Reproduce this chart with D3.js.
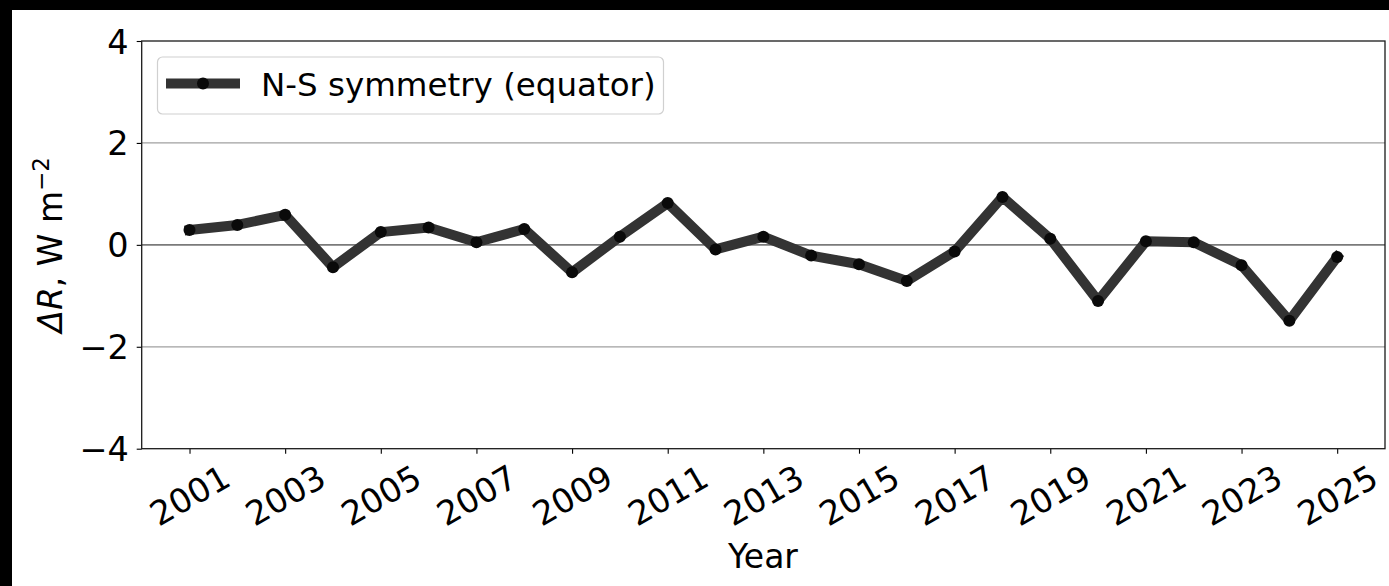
<!DOCTYPE html>
<html>
<head>
<meta charset="utf-8">
<script src="https://cdn.jsdelivr.net/npm/d3@7"></script>
<style>
  html, body { margin: 0; padding: 0; background: #000; }
  svg { display: block; }
  text { font-family: "DejaVu Sans", sans-serif; fill: #000; }
</style>
</head>
<body>
<svg id="chart" width="1389" height="586"></svg>
<script>
// ---- data ----
const years = [2001, 2002, 2003, 2004, 2005, 2006, 2007, 2008, 2009, 2010, 2011, 2012, 2013,
               2014, 2015, 2016, 2017, 2018, 2019, 2020, 2021, 2022, 2023, 2024, 2025];
const deltaR = [0.29, 0.39, 0.59, -0.44, 0.25, 0.34, 0.05, 0.31, -0.54, 0.16, 0.82, -0.09, 0.16,
                -0.21, -0.38, -0.71, -0.13, 0.94, 0.12, -1.10, 0.07, 0.05, -0.40, -1.49, -0.24];
const xTickValues = [2001, 2003, 2005, 2007, 2009, 2011, 2013, 2015, 2017, 2019, 2021, 2023, 2025];
const yTickValues = [-4, -2, 0, 2, 4];
const seriesName = "N-S symmetry (equator)";

// ---- layout ----
const W = 1389, H = 586;
const svg = d3.select("#chart");
svg.append("rect").attr("x", 12).attr("y", 10).attr("width", W - 12).attr("height", H - 10).attr("fill", "#fff");

const pLeft = 141.7, pRight = 1385, pTop = 41, pBottom = 448.7;
const x = d3.scaleLinear().domain([2000, 2026]).range([pLeft, pRight]);
const y = d3.scaleLinear().domain([-4, 4]).range([pBottom, pTop]);

const fmt = v => (v < 0 ? "\u2212" + Math.abs(v) : String(v));

// grid lines
const g = svg.append("g");
g.selectAll("line.grid").data(yTickValues.filter(v => v !== 0 && Math.abs(v) < 4)).enter()
  .append("line").attr("class", "grid")
  .attr("x1", pLeft).attr("x2", pRight)
  .attr("y1", d => y(d)).attr("y2", d => y(d))
  .attr("stroke", "#a0a0a0").attr("stroke-width", 1.2);
g.append("line").attr("x1", pLeft).attr("x2", pRight)
  .attr("y1", y(0)).attr("y2", y(0))
  .attr("stroke", "#7a7a7a").attr("stroke-width", 1.6);

// axes
const xAxis = d3.axisBottom(x).tickValues(xTickValues).tickSize(5).tickFormat(d3.format("d"));
const xg = svg.append("g").attr("transform", `translate(0,${pBottom})`).call(xAxis);
xg.select(".domain").remove();
xg.selectAll(".tick line").attr("stroke", "#000").attr("stroke-width", 1.1);
xg.selectAll(".tick text")
  .attr("font-size", 33.5).attr("font-family", "DejaVu Sans").attr("fill", "#000")
  .attr("text-anchor", "middle").attr("dy", null).attr("y", null)
  .attr("dominant-baseline", "central")
  .attr("transform", "translate(0,47) rotate(-30)");

const yAxis = d3.axisLeft(y).tickValues(yTickValues).tickSize(5).tickFormat(fmt);
const yg = svg.append("g").attr("transform", `translate(${pLeft},0)`).call(yAxis);
yg.select(".domain").remove();
yg.selectAll(".tick line").attr("stroke", "#000").attr("stroke-width", 1.1);
yg.selectAll(".tick text")
  .attr("font-size", 33.5).attr("font-family", "DejaVu Sans").attr("fill", "#000")
  .attr("x", -13).attr("dy", "0.36em");

// spines
svg.append("rect").attr("x", pLeft).attr("y", pTop).attr("width", pRight - pLeft).attr("height", pBottom - pTop)
  .attr("fill", "none").attr("stroke", "#1a1a1a").attr("stroke-width", 1.3);

// series line
const line = d3.line().x((d, i) => x(years[i])).y(d => y(d));
svg.append("path").datum(deltaR)
  .attr("d", line)
  .attr("fill", "none").attr("stroke", "#333333").attr("stroke-width", 10)
  .attr("stroke-linejoin", "round").attr("stroke-linecap", "square");
svg.selectAll("circle.pt").data(deltaR).enter().append("circle").attr("class", "pt")
  .attr("cx", (d, i) => x(years[i])).attr("cy", d => y(d)).attr("r", 6)
  .attr("fill", "#0a0a0a");

// legend
const lg = svg.append("g");
lg.append("rect").attr("x", 157.5).attr("y", 57).attr("width", 506).attr("height", 57).attr("rx", 5)
  .attr("fill", "#fff").attr("fill-opacity", 0.8).attr("stroke", "#d0d0d0").attr("stroke-width", 1.2);
lg.append("line").attr("x1", 166).attr("x2", 240).attr("y1", 83.5).attr("y2", 83.5)
  .attr("stroke", "#333333").attr("stroke-width", 10);
lg.append("circle").attr("cx", 203).attr("cy", 83.5).attr("r", 6).attr("fill", "#0a0a0a");
lg.append("text").attr("x", 261).attr("y", 95.5).attr("font-size", 32.5).text(seriesName);

// axis labels
svg.append("text").attr("x", 763).attr("y", 568)
  .attr("text-anchor", "middle").attr("font-size", 33).text("Year");

const yl = svg.append("text")
  .attr("transform", `translate(62,${(pTop + pBottom) / 2}) rotate(-90)`)
  .attr("text-anchor", "middle").attr("font-size", 33);
yl.append("tspan").attr("font-style", "italic").text("\u0394R");
yl.append("tspan").text(", W m");
yl.append("tspan").attr("font-size", 23).attr("dy", -13).text("\u22122");
</script>
</body>
</html>
